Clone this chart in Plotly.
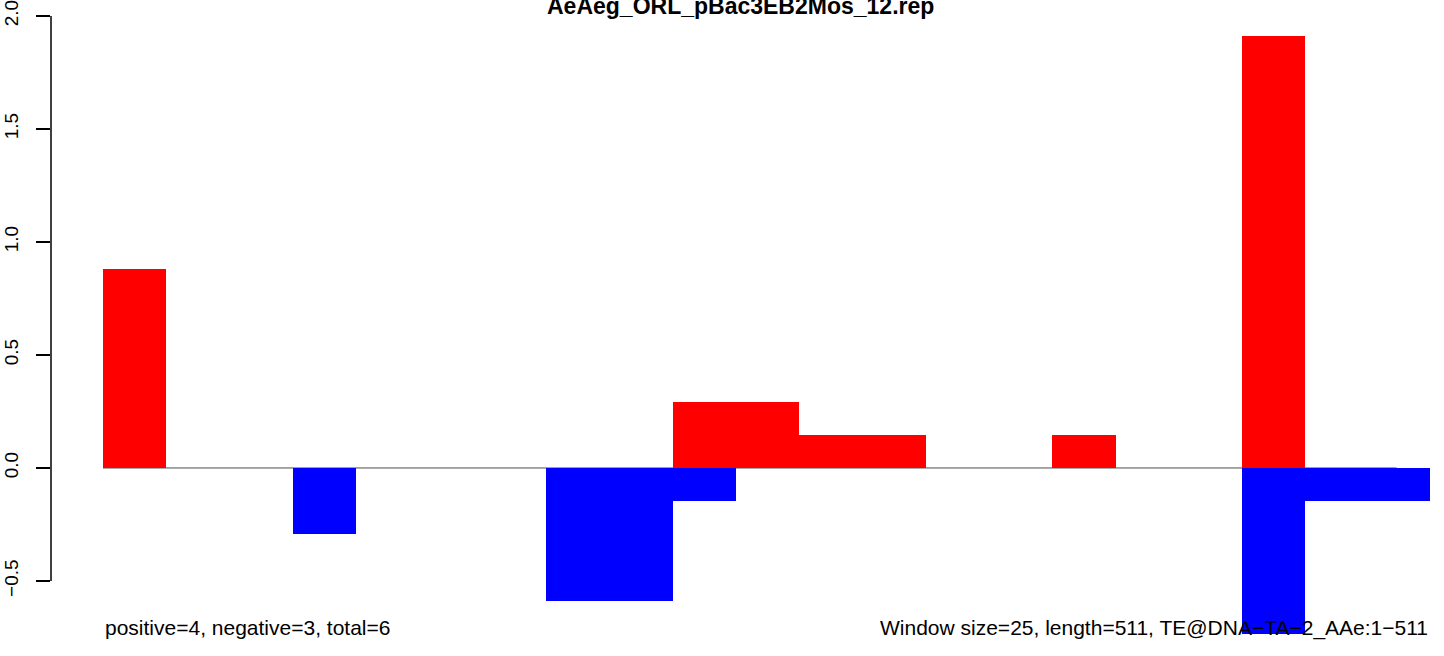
import plotly.graph_objects as go

# ---- data ----
window_size = 25
seq_length = 511
window_starts = [i * 25 for i in range(21)]
pos_values = [0.882, 0, 0, 0, 0, 0, 0, 0, 0, 0.294, 0.294, 0.147, 0.147, 0, 0, 0.147, 0, 0, 1.911, 0, 0]
neg_values = [0, 0, 0, -0.294, 0, 0, 0, -0.588, -0.588, -0.147, 0, 0, 0, 0, 0, 0, 0, 0, -0.735, -0.147, -0.147]
y_ticks = [-0.5, 0.0, 0.5, 1.0, 1.5, 2.0]
y_tick_labels = ["\u22120.5", "0.0", "0.5", "1.0", "1.5", "2.0"]
title_text = "AeAeg_ORL_pBac3EB2Mos_12.rep"
left_note = "positive=4, negative=3, total=6"
right_note = "Window size=25, length=511, TE@DNA\u2212TA\u22122_AAe:1\u2212511"

FONT = "Liberation Sans, Arial, Helvetica, sans-serif"

centers = [s + window_size / 2 for s in window_starts]
px_x = [c for c, v in zip(centers, pos_values) if v != 0]
py = [v for v in pos_values if v != 0]
nx_x = [c for c, v in zip(centers, neg_values) if v != 0]
ny = [v for v in neg_values if v != 0]

fig = go.Figure()
fig.add_trace(go.Bar(x=px_x, y=py, width=window_size, marker=dict(color="#FF0000", line=dict(width=0)),
                     hoverinfo="skip", showlegend=False))
fig.add_trace(go.Bar(x=nx_x, y=ny, width=window_size, marker=dict(color="#0000FF", line=dict(width=0)),
                     hoverinfo="skip", showlegend=False))

# zero line
fig.add_shape(type="line", xref="x", yref="y", x0=0, x1=seq_length, y0=0, y1=0,
              line=dict(color="#4d4d4d", width=1), layer="below")
# y axis line (only between extreme ticks, R style)
fig.add_shape(type="line", xref="paper", yref="y", x0=0, x1=0, y0=y_ticks[0], y1=y_ticks[-1],
              line=dict(color="black", width=1.5), layer="above")

fig.add_annotation(text="<b>" + title_text + "</b>", xref="paper", yref="paper", x=0.5, y=1.0057,
                   showarrow=False, xanchor="center", yanchor="middle",
                   font=dict(family=FONT, size=23, color="black"))
fig.add_annotation(text=left_note, xref="x", yref="y", x=0, y=-0.708,
                   showarrow=False, xanchor="left", yanchor="middle",
                   font=dict(family=FONT, size=21, color="black"))
fig.add_annotation(text=right_note, xref="paper", yref="y", x=1, y=-0.708,
                   showarrow=False, xanchor="right", yanchor="middle",
                   font=dict(family=FONT, size=21, color="black"))

fig.update_layout(
    width=1444, height=656,
    margin=dict(l=51, r=14, t=10, b=0, autoexpand=False),
    paper_bgcolor="white", plot_bgcolor="white",
    barmode="overlay", bargap=0,
    font=dict(family=FONT, size=20, color="black"),
    xaxis=dict(visible=False, range=[-20.54, 524.2]),
    yaxis=dict(range=[-0.832, 2.0265], tickmode="array", tickvals=y_ticks, ticktext=y_tick_labels,
               ticks="outside", ticklen=14, tickwidth=1.5, tickcolor="black",
               showline=False, showgrid=False, zeroline=False, tickangle=-90,
               ticklabeloverflow="allow",
               tickfont=dict(family=FONT, size=19, color="black"), ticklabelstandoff=10),
)

fig.write_html("out.html", config={"displayModeBar": False},
               post_script="document.body.style.margin='0px';")
